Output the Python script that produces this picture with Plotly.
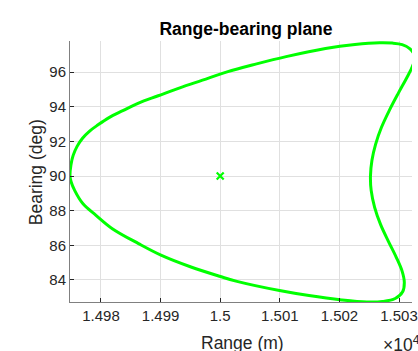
import plotly.graph_objects as go

# Closed contour in the range-bearing plane (range in metres, bearing in degrees)
range_m = [
    14974.80, 14974.95, 14975.33, 14975.99, 14976.90, 14978.05, 14979.46, 14981.35,
    14983.66, 14986.30, 14989.60, 14993.23, 14997.03, 15001.16, 15006.11, 15011.06,
    15017.66, 15022.61, 15026.73, 15028.88, 15030.53, 15031.85, 15032.67, 15032.26,
    15031.35, 15029.87, 15028.38, 15027.06, 15026.07, 15025.46, 15025.21, 15025.33,
    15025.91, 15026.90, 15028.22, 15029.54, 15030.53, 15030.89, 15030.61, 15029.37,
    15027.23, 15024.59, 15020.41, 15014.90, 15009.95, 15002.81, 15000.05, 14995.10,
    14990.15, 14986.30, 14981.90, 14979.16, 14976.95, 14975.58, 14974.97, 14974.80,
]
bearing_deg = [
    90.00, 90.62, 91.19, 91.71, 92.18, 92.58, 92.94, 93.37,
    93.77, 94.21, 94.63, 95.09, 95.53, 96.01, 96.47, 96.89,
    97.36, 97.59, 97.69, 97.67, 97.58, 97.34, 96.88, 96.33,
    95.70, 94.77, 93.79, 92.81, 91.83, 90.91, 90.00, 89.17,
    88.19, 87.21, 86.23, 85.31, 84.50, 83.87, 83.32, 82.93,
    82.76, 82.73, 82.85, 83.10, 83.39, 83.92, 84.20, 84.75,
    85.42, 86.10, 86.96, 87.73, 88.41, 89.17, 89.69, 90.00,
]

# Nominal target position
center_range = [15000.0]
center_bearing = [90.0]

x_tick_vals = [14980, 14990, 15000, 15010, 15020, 15030]
x_tick_text = ["1.498", "1.499", "1.5", "1.501", "1.502", "1.503"]
y_tick_vals = [84, 86, 88, 90, 92, 94, 96]

x_range = [14974.8, 15032.18]
y_range = [82.73, 97.79]

FONT = "Liberation Sans, Arial, Helvetica, sans-serif"
AXIS_COLOR = "#262626"
GRID_COLOR = "#e0e0e0"
GREEN = "#00ff00"

fig = go.Figure()
fig.add_trace(go.Scatter(
    x=range_m, y=bearing_deg, mode="lines",
    line=dict(color=GREEN, width=3, shape="spline", smoothing=1.0),
    showlegend=False, hoverinfo="skip",
))
fig.add_trace(go.Scatter(
    x=center_range, y=center_bearing, mode="markers",
    marker=dict(symbol="x-thin", size=7, color=GREEN, line=dict(color=GREEN, width=2.2)),
    showlegend=False, hoverinfo="skip",
))

axis_common = dict(
    showgrid=True, gridcolor=GRID_COLOR, gridwidth=1,
    showline=True, linecolor="#808080", linewidth=1,
    ticks="inside", ticklen=4, tickcolor=AXIS_COLOR, tickwidth=1,
    zeroline=False, mirror=False, ticklabeloverflow="allow",
    tickfont=dict(family=FONT, size=15, color=AXIS_COLOR),
)

fig.update_xaxes(range=x_range, tickmode="array", tickvals=x_tick_vals,
                 ticktext=x_tick_text, **axis_common)
fig.update_yaxes(range=y_range, tickmode="array", tickvals=y_tick_vals, **axis_common)

plot_l, plot_r, plot_t, plot_b = 70, 418, 41, 301.7
pw, ph = plot_r - plot_l, plot_b - plot_t


def px(xp):
    return (xp - plot_l) / pw


def py(yp):
    return (plot_b - yp) / ph


fig.update_layout(
    width=418, height=351,
    margin=dict(l=70, r=0, t=41, b=49.3, pad=0),
    paper_bgcolor="white", plot_bgcolor="white",
    title=dict(text="<b>Range-bearing plane</b>", x=246 / 418, xanchor="center",
               y=1 - 29 / 351, yanchor="middle",
               font=dict(family=FONT, size=17.5, color="black")),
    annotations=[
        dict(text="Range (m)", x=px(246), y=py(342.5), xref="paper", yref="paper",
             showarrow=False, xanchor="center", yanchor="middle",
             font=dict(family=FONT, size=17.5, color=AXIS_COLOR)),
        dict(text="Bearing (deg)", x=px(35), y=py(172.5), xref="paper", yref="paper",
             showarrow=False, xanchor="center", yanchor="middle", textangle=-90,
             font=dict(family=FONT, size=17.5, color=AXIS_COLOR)),
        dict(text="×10<sup>4</sup>", x=px(386), y=py(344), xref="paper", yref="paper",
             showarrow=False, xanchor="left", yanchor="middle",
             font=dict(family=FONT, size=17.5, color=AXIS_COLOR)),
    ],
)

fig.write_html("out.html")
